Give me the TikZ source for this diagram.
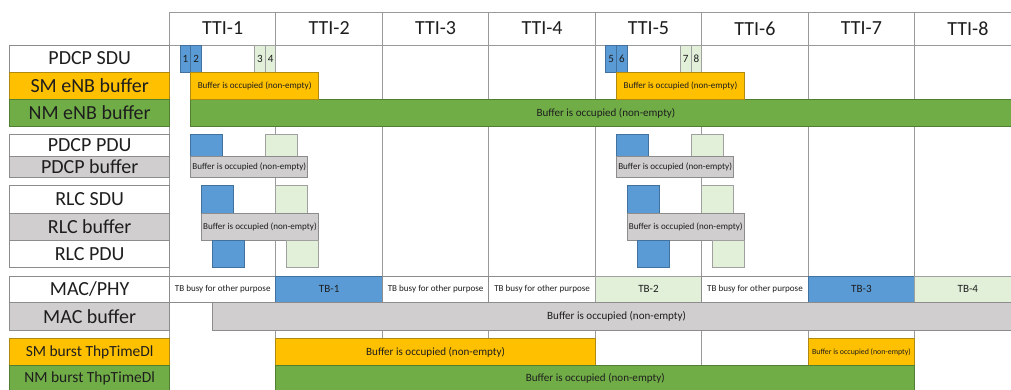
\documentclass[tikz,border=0pt]{standalone}
\usepackage{fontspec}
\setmainfont{Carlito}

\definecolor{boxblue}{HTML}{5B9BD5}
\definecolor{boxbluedk}{HTML}{41719C}
\definecolor{boxlgreen}{HTML}{E2F0D9}
\definecolor{boxlgreendk}{HTML}{A0A0A0}
\definecolor{boxyellow}{HTML}{FFC000}
\definecolor{boxyellowdk}{HTML}{B08A10}
\definecolor{boxgreen}{HTML}{70AD47}
\definecolor{boxgreendk}{HTML}{507E32}
\definecolor{boxgray}{HTML}{D0CECE}
\definecolor{boxgraydk}{HTML}{8C8C8C}
\definecolor{gridc}{HTML}{9A9A9A}
\definecolor{txt}{HTML}{1E1E1E}

% filled cell: #1 box style, #2-#5 corners, #6 text style, #7 node name, #8 text
\newcommand\cell[8]{%
  \path[#1] (#2,#3) rectangle (#4,#5);
  \node[txt,inner sep=0pt,#6] (#7) at ({(#2+#4)/2},{(#3+#5)/2}) {#8};}

\begin{document}
% x: one unit = a tenth of a TTI column, origin at the start of TTI-1; y: pixels, downwards
\begin{tikzpicture}[x=7.98375pt, y=-0.75pt,
  gridline/.style={draw=gridc, line width=0.7pt},
  swhite/.style={fill=white, draw=boxgraydk, line width=0.7pt},
  sgray/.style={fill=boxgray, draw=boxgraydk, line width=0.7pt},
  sblue/.style={fill=boxblue, draw=boxbluedk, line width=0.7pt},
  slgreen/.style={fill=boxlgreen, draw=boxlgreendk, line width=0.7pt},
  syellow/.style={fill=boxyellow, draw=boxyellowdk, line width=0.7pt},
  sgreen/.style={fill=boxgreen, draw=boxgreendk, line width=0.7pt},
  tbig/.style={font=\fontsize{15}{16}\selectfont},
  tlab/.style={font=\fontsize{11.6}{12}\selectfont},
  tmid/.style={font=\fontsize{8.3}{9}\selectfont},
  tsmall/.style={font=\fontsize{6.8}{7}\selectfont},
  ttiny/.style={font=\fontsize{5.9}{6}\selectfont}]

\useasboundingbox (-15.9225,0) rectangle (79.0512,389);
\clip (-15.9225,0) rectangle (79.0512,389);
\fill[white] (-15.9225,0) rectangle (79.0512,389);

% column grid and header
\foreach \k in {0,...,7}
  \draw[gridline] (\k*10,12) -- (\k*10,389);
\draw[gridline] (0,12) -- (80,12);
\draw[gridline] (0,45) -- (80,45);
\foreach \k in {1,...,8}
  \node[txt,tbig] (tti\k) at (\k*10-5,28.5) {TTI-\k};

% row labels
\cell{swhite}{-15}{45}{0}{72}{tbig}{lsdu}{PDCP SDU}
\cell{syellow}{-15}{72}{0}{99.3}{tbig}{lsm}{SM eNB buffer}
\cell{sgreen}{-15}{99.3}{0}{126.7}{tbig}{lnm}{NM eNB buffer}
\cell{swhite}{-15}{134.3}{0}{156}{tbig}{lpdu}{PDCP PDU}
\cell{sgray}{-15}{156}{0}{177.3}{tbig}{lpbuf}{PDCP buffer}
\cell{swhite}{-15}{185.7}{0}{213.3}{tbig}{lrsdu}{RLC SDU}
\cell{sgray}{-15}{213.3}{0}{240.5}{tbig}{lrbuf}{RLC buffer}
\cell{swhite}{-15}{240.5}{0}{267}{tbig}{lrpdu}{RLC PDU}
\cell{swhite}{-15}{276}{0}{302.7}{tbig}{lmac}{MAC/PHY}
\cell{sgray}{-15}{302.7}{0}{330.3}{tbig}{lmbuf}{MAC buffer}
\cell{syellow}{-15}{338.7}{0}{365.3}{tlab}{lsmb}{SM burst ThpTimeDl}
\cell{sgreen}{-15}{365.3}{0}{392}{tlab}{lnmb}{NM burst ThpTimeDl}

% eNB buffers running on from TTI-1
\cell{sgreen}{2}{99.3}{80}{126.7}{tmid}{nmbuf}{Buffer is occupied (non-empty)}

% two bursts of four PDCP SDUs passing down the stack
\foreach \g/\c/\na/\nb/\nc/\nd in {1/0/1/2/3/4, 5/40/5/6/7/8}{
  \begin{scope}[shift={(\c,0)}]
    \cell{sblue}{1}{45}{2}{72}{tmid}{sdu\na}{\na}
    \cell{sblue}{2}{45}{3}{72}{tmid}{sdu\nb}{\nb}
    \cell{slgreen}{8}{45}{9}{72}{tmid}{sdu\nc}{\nc}
    \cell{slgreen}{9}{45}{10}{72}{tmid}{sdu\nd}{\nd}
    \cell{syellow}{2}{72}{14}{99.3}{tsmall}{smbuf\g}{Buffer is occupied (non-empty)}
    \cell{sblue}{2}{134.3}{5}{156}{}{pdcpa\g}{}
    \cell{slgreen}{9}{134.3}{12}{156}{}{pdcpb\g}{}
    \cell{sgray}{2}{156}{13}{177.3}{tsmall}{pbuf\g}{Buffer is occupied (non-empty)}
    \cell{sblue}{3}{185.7}{6}{213.3}{}{rsdua\g}{}
    \cell{slgreen}{10}{185.7}{13}{213.3}{}{rsdub\g}{}
    \cell{sgray}{3}{213.3}{14}{240.5}{tsmall}{rbuf\g}{Buffer is occupied (non-empty)}
    \cell{sblue}{4}{240.5}{7}{267}{}{rpdua\g}{}
    \cell{slgreen}{11}{240.5}{14}{267}{}{rpdub\g}{}
  \end{scope}}

% MAC/PHY transport blocks
\cell{swhite}{0}{276}{10}{302.7}{tsmall}{mac1}{TB busy for other purpose}
\cell{sblue}{10}{276}{20}{302.7}{tmid}{mac2}{TB-1}
\cell{swhite}{20}{276}{30}{302.7}{tsmall}{mac3}{TB busy for other purpose}
\cell{swhite}{30}{276}{40}{302.7}{tsmall}{mac4}{TB busy for other purpose}
\cell{slgreen}{40}{276}{50}{302.7}{tmid}{mac5}{TB-2}
\cell{swhite}{50}{276}{60}{302.7}{tsmall}{mac6}{TB busy for other purpose}
\cell{sblue}{60}{276}{70}{302.7}{tmid}{mac7}{TB-3}
\cell{slgreen}{70}{276}{80}{302.7}{tmid}{mac8}{TB-4}
\cell{sgray}{4}{302.7}{80}{330.3}{tmid}{macbuf}{Buffer is occupied (non-empty)}

% burst throughput time
\cell{syellow}{10}{338.7}{40}{365.3}{tmid}{smb1}{Buffer is occupied (non-empty)}
\cell{syellow}{60}{338.7}{70}{365.3}{ttiny}{smb2}{Buffer is occupied (non-empty)}
\cell{sgreen}{10}{365.3}{70}{392}{tmid}{nmb}{Buffer is occupied (non-empty)}
\end{tikzpicture}
\end{document}
